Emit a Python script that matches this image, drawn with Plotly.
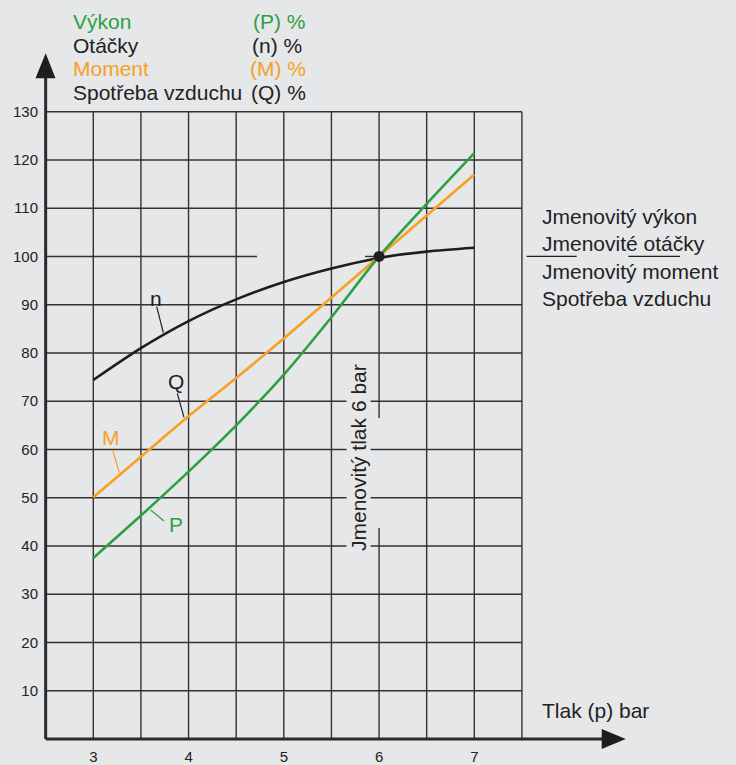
import plotly.graph_objects as go

# ---------------- data ----------------
pressure = [3, 3.5, 4, 4.5, 5, 5.5, 6, 6.5, 7]          # Tlak (p) bar
power_P = [37.5, 46.3, 55.4, 65.0, 75.5, 87.4, 100.0, 110.9, 121.4]   # Výkon %
speed_n = [74.4, 81.0, 86.6, 91.1, 94.7, 97.5, 99.7, 101.0, 101.8]    # Otáčky %
torque_M = [50.1, 58.5, 66.9, 74.8, 83.0, 91.5, 100.0, 108.5, 117.0]  # Moment %
rated_p = [6]
rated_val = [100]
x_ticks = [3, 4, 5, 6, 7]
y_ticks = [10, 20, 30, 40, 50, 60, 70, 80, 90, 100, 110, 120, 130]
x_grid = [3, 3.5, 4, 4.5, 5, 5.5, 6, 6.5, 7, 7.5]
x_axis_start = 2.5

# ---------------- styling ----------------
W, H = 736, 765
ML, MR, MT, MB = 35, 0, 0, 14
BG = "#e6e7e9"
GRID = "#333333"
GREEN = "#2ea043"
ORANGE = "#f7a024"
BLACK = "#1e1e1e"
TEXT = "#222222"
FONT = "Liberation Sans, Arial, sans-serif"

PXB = 95.25   # pixels per bar
PYU = 4.8254  # pixels per percent


def px2x(px):
    return 3 + (px - 93.3) / PXB


def py2y(py):
    return (739 - py) / PYU


x_range = [px2x(ML), px2x(W - MR)]
y_range = [py2y(H - MB), py2y(MT)]

fig = go.Figure()

fig.add_trace(go.Scatter(x=pressure, y=speed_n, mode="lines",
                         line=dict(color=BLACK, width=2.6, shape="spline", smoothing=0.8),
                         hoverinfo="skip"))
fig.add_trace(go.Scatter(x=pressure, y=torque_M, mode="lines",
                         line=dict(color=ORANGE, width=2.6, shape="spline", smoothing=0.8),
                         hoverinfo="skip"))
fig.add_trace(go.Scatter(x=pressure, y=power_P, mode="lines",
                         line=dict(color=GREEN, width=2.6, shape="spline", smoothing=0.8),
                         hoverinfo="skip"))
fig.add_trace(go.Scatter(x=rated_p, y=rated_val, mode="markers",
                         marker=dict(color=BLACK, size=11), hoverinfo="skip"))

shapes = []


def seg(x0, y0, x1, y1, color=GRID, width=1.4):
    shapes.append(dict(type="line", xref="x", yref="y", x0=x0, y0=y0, x1=x1, y1=y1,
                       line=dict(color=color, width=width), layer="below"))


top = y_ticks[-1]
x_end = x_grid[-1]
# horizontal grid lines
for v in y_ticks:
    if v == 100:
        seg(x_axis_start, v, px2x(257), v)
        seg(px2x(365), v, px2x(383), v)
    else:
        seg(x_axis_start, v, x_end, v)
# vertical grid lines
for p in x_grid:
    if p == 6:
        seg(p, 0, p, py2y(528))
        seg(p, py2y(418), p, top)
    else:
        seg(p, 0, p, top)

# axes with arrows
seg(x_axis_start, 0, x_axis_start, py2y(76), color="#2a2a2a", width=3)
seg(x_axis_start, 0, px2x(603), 0, color="#2a2a2a", width=3)
shapes.append(dict(type="path", xref="x", yref="y", layer="above",
                   path=f"M {x_axis_start},{py2y(53.3)} L {px2x(35.5)},{py2y(78.3)} "
                        f"L {px2x(55.5)},{py2y(78.3)} Z",
                   fillcolor="#1e1e1e", line=dict(width=0)))
shapes.append(dict(type="path", xref="x", yref="y", layer="above",
                   path=f"M {px2x(625.7)},0 L {px2x(601.7)},{py2y(729)} "
                        f"L {px2x(601.7)},{py2y(749)} Z",
                   fillcolor="#1e1e1e", line=dict(width=0)))

# short lines next to the right-hand labels (100 % level)
seg(px2x(526.7), 100, px2x(576.7), 100, color=BLACK, width=1.3)
seg(px2x(628.3), 100, px2x(680), 100, color=BLACK, width=1.3)

# leader lines of curve labels
seg(px2x(156.7), py2y(306.7), px2x(163.3), py2y(332.7), color=BLACK, width=1.2)
seg(px2x(177.3), py2y(393.3), px2x(184), py2y(417.3), color=BLACK, width=1.2)
seg(px2x(112.7), py2y(450), px2x(119.3), py2y(472.7), color=ORANGE, width=1.2)
seg(px2x(150.7), py2y(510), px2x(164), py2y(521), color=GREEN, width=1.2)

annotations = []


def txt(s, px, py, color=TEXT, size=21, xanchor="left", **kw):
    annotations.append(dict(text=s, x=px2x(px), y=py2y(py), xref="x", yref="y",
                            showarrow=False, xanchor=xanchor, yanchor="middle",
                            font=dict(family=FONT, size=size, color=color), **kw))


# top-left legend
txt("Výkon", 71, 21, GREEN)
txt("(P) %", 251, 21, GREEN)
txt("Otáčky", 71, 45, TEXT)
txt("(n) %", 250, 45, TEXT)
txt("Moment", 71, 68.5, ORANGE)
txt("(M) %", 248, 68.5, ORANGE)
txt("Spotřeba vzduchu", 71, 92, TEXT)
txt("(Q) %", 249, 92, TEXT)

# right labels
txt("Jmenovitý výkon", 540, 216)
txt("Jmenovité otáčky", 540, 243.5)
txt("Jmenovitý moment", 540, 271)
txt("Spotřeba vzduchu", 540, 298.5)
txt("Tlak (p) bar", 540, 710)

# curve labels
txt("n", 156, 298, BLACK, xanchor="center")
txt("Q", 175.7, 381, BLACK, xanchor="center")
txt("M", 111, 437, ORANGE, xanchor="center")
txt("P", 175.5, 524, GREEN, xanchor="center")

# rotated label
txt("Jmenovitý tlak 6 bar", 358, 458, TEXT, xanchor="center",
    textangle=-90, bgcolor=BG, borderpad=0)

fig.update_layout(
    width=W, height=H,
    margin=dict(l=ML, r=MR, t=MT, b=MB, pad=0, autoexpand=False),
    paper_bgcolor=BG, plot_bgcolor=BG,
    showlegend=False,
    shapes=shapes, annotations=annotations,
    xaxis=dict(range=x_range, showgrid=False, zeroline=False, showline=False,
               automargin=False,
               tickmode="array", tickvals=x_ticks, ticks="",
               tickfont=dict(family=FONT, size=15, color=TEXT),
               ticklabelstandoff=-5, fixedrange=True),
    yaxis=dict(range=y_range, showgrid=False, zeroline=False, showline=False,
               automargin=False,
               tickmode="array", tickvals=y_ticks, ticks="",
               tickfont=dict(family=FONT, size=15, color=TEXT),
               ticklabelstandoff=-4, fixedrange=True),
)

fig.write_html("out.html", config={"displayModeBar": False},
               post_script="document.body.style.margin='0px';"
                           "document.body.style.background='" + BG + "';")
